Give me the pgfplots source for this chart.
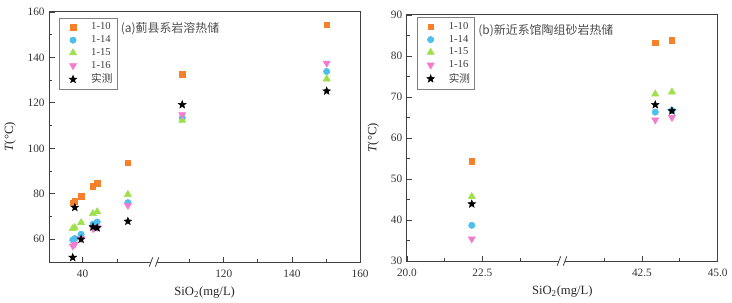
\documentclass[border=0pt]{standalone}
\usepackage{pgfplots}
\pgfplotsset{compat=1.18}
\usepackage{fontspec}
\setmainfont{Liberation Serif}
\newfontfamily\cjk{Noto Sans CJK SC}
\definecolor{cOr}{HTML}{F5822A}
\definecolor{cBl}{HTML}{4DBEEE}
\definecolor{cGr}{HTML}{9EE04A}
\definecolor{cPk}{HTML}{F47CCF}
\pgfdeclareplotmark{fstar}{%
  \pgfpathmoveto{\pgfpointpolar{90}{\pgfplotmarksize}}%
  \pgfpathlineto{\pgfpointpolar{126}{0.42\pgfplotmarksize}}%
  \pgfpathlineto{\pgfpointpolar{162}{\pgfplotmarksize}}%
  \pgfpathlineto{\pgfpointpolar{198}{0.42\pgfplotmarksize}}%
  \pgfpathlineto{\pgfpointpolar{234}{\pgfplotmarksize}}%
  \pgfpathlineto{\pgfpointpolar{270}{0.42\pgfplotmarksize}}%
  \pgfpathlineto{\pgfpointpolar{306}{\pgfplotmarksize}}%
  \pgfpathlineto{\pgfpointpolar{342}{0.42\pgfplotmarksize}}%
  \pgfpathlineto{\pgfpointpolar{18}{\pgfplotmarksize}}%
  \pgfpathlineto{\pgfpointpolar{54}{0.42\pgfplotmarksize}}%
  \pgfpathclose
  \pgfusepathqfillstroke}
\pgfplotsset{
  mystyle/.style={
    scale only axis, clip=false,
    axis line style={draw=black!75, line width=0.7pt},
    tick align=inside, xtick pos=bottom, ytick pos=left,
    tick style={black!75, line width=0.6pt},
    major tick length=4pt, minor tick length=2.3pt,
    tick label style={font=\fontsize{8.5}{10}\selectfont, text=black!80},
    xticklabel style={yshift=-2.5pt},
    /pgf/number format/assume math mode=true,
    label style={font=\fontsize{9.5}{11}\selectfont, text=black!85},
    xlabel={SiO\textsubscript{2}(mg/L)},
    ylabel={\textit{T}(°C)},
    ylabel style={yshift=2pt},
    legend cell align=left,
    legend image code/.code={\path (0pt,0pt); \draw[##1] plot coordinates {(8.5pt,0pt)}; \path (20pt,0pt);},
    legend style={draw=black!50, line width=0.4pt, font=\fontsize{8}{9.6}\selectfont, text=black!75,
      anchor=north west, inner xsep=1.5pt, inner ysep=1.5pt, row sep=-1.2pt},
  },
  s10/.style={only marks, mark=square*, mark size=2.1pt, color=cOr},
  s14/.style={only marks, mark=*, mark size=2.4pt, color=cBl},
  s15/.style={only marks, mark=triangle*, mark size=3.1pt, color=cGr},
  s16/.style={only marks, mark=triangle*, mark size=3.1pt, mark options={rotate=180}, color=cPk},
  sob/.style={only marks, mark=fstar, mark size=3pt, color=black},
}
\begin{document}
\begin{tikzpicture}
\path (0,0) rectangle (549pt,228pt);
% ---------------- panel (a)
\begin{axis}[mystyle,
  at={(35.25pt,30.75pt)}, anchor=south west,
  width=234pt, height=188.25pt,
  x coord trafo/.code={\pgfmathparse{ifthenelse(#1<75,(#1-40)*0.21+1,(#1-120)*0.1025+5.25)}},
  xmin=35.24, xmax=160, ymin=50, ymax=160,
  xtick={40,120,140,160}, xticklabels={40,120,140,160},
  minor xtick={45,110,130,150},
  ytick={60,80,...,160}, minor ytick={50,70,...,150},
  legend style={at={(rel axis cs:0.032,0.976)}},
]
\addplot[s10] coordinates {(38.6,76.1)(38.9,76.7)(39.8,79.0)(41.5,83.4)(42.1,84.6)(46.5,93.6)(107.8,132.5)(150.2,154.3)};
\addplot[s14] coordinates {(38.6,59.7)(38.9,60.3)(39.8,62.2)(41.5,66.6)(42.1,67.6)(46.5,76.1)(107.8,113.4)(150.2,133.8)};
\addplot[s15] coordinates {(38.6,64.7)(38.9,65.1)(39.8,67.3)(41.5,71.3)(42.1,72.1)(46.5,79.7)(107.8,112.3)(150.2,130.5)};
\addplot[s16] coordinates {(38.6,57.1)(38.9,57.8)(39.8,60.3)(41.5,64.7)(42.1,65.3)(46.5,74.9)(107.8,114.8)(150.2,137.5)};
\addplot[sob] coordinates {(38.6,52.0)(38.9,74.0)(39.8,60.0)(41.5,65.4)(42.1,65.0)(46.5,67.9)(107.8,119.2)(150.2,125.2)};
\legend{1-10,1-14,1-15,1-16,{\cjk 实测}}
\node[anchor=west, font=\cjk\fontsize{9}{11}\selectfont, text=black!70] at (rel axis cs:0.215,0.935) {(a)蓟县系岩溶热储};
\fill[white] (rel axis cs:0.337,0) ++(-2.2pt,-1.2pt) rectangle ++(4.4pt,2.4pt);
\draw[black!75, line width=0.6pt] (rel axis cs:0.337,0) ++(-3.6pt,-3.5pt) -- ++(2.6pt,7pt);
\draw[black!75, line width=0.6pt] (rel axis cs:0.337,0) ++(1pt,-3.5pt) -- ++(2.6pt,7pt);
\end{axis}
% ---------------- panel (b)
\begin{axis}[mystyle,
  at={(304.5pt,31.5pt)}, anchor=south west,
  width=234pt, height=185.25pt,
  x coord trafo/.code={\pgfmathparse{ifthenelse(#1<30,(#1-20)*0.908,(#1-40)*0.912+4.79)}},
  xmin=20, xmax=45, ymin=30, ymax=90,
  xtick={20,22.5,42.5,45}, xticklabels={20.0,22.5,42.5,45.0},
  minor xtick={21.25,23.75,41.25,43.75},
  ytick={30,40,...,90}, minor ytick={35,45,...,85},
  legend style={at={(rel axis cs:0.032,0.99)}},
]
\addplot[s10] coordinates {(22.15,54.3)(42.94,83.2)(43.49,83.8)};
\addplot[s14] coordinates {(22.15,38.7)(42.94,66.3)(43.49,66.7)};
\addplot[s15] coordinates {(22.15,45.7)(42.94,70.7)(43.49,71.2)};
\addplot[s16] coordinates {(22.15,35.4)(42.94,64.4)(43.49,65.0)};
\addplot[sob] coordinates {(22.15,43.9)(42.94,68.1)(43.49,66.6)};
\legend{1-10,1-14,1-15,1-16,{\cjk 实测}}
\node[anchor=west, font=\cjk\fontsize{9}{11}\selectfont, text=black!70] at (rel axis cs:0.215,0.935) {(b)新近系馆陶组砂岩热储};
\fill[white] (rel axis cs:0.499,0) ++(-2.2pt,-1.2pt) rectangle ++(4.4pt,2.4pt);
\draw[black!75, line width=0.6pt] (rel axis cs:0.499,0) ++(-3.6pt,-3.5pt) -- ++(2.6pt,7pt);
\draw[black!75, line width=0.6pt] (rel axis cs:0.499,0) ++(1pt,-3.5pt) -- ++(2.6pt,7pt);
\end{axis}
\end{tikzpicture}
\end{document}
